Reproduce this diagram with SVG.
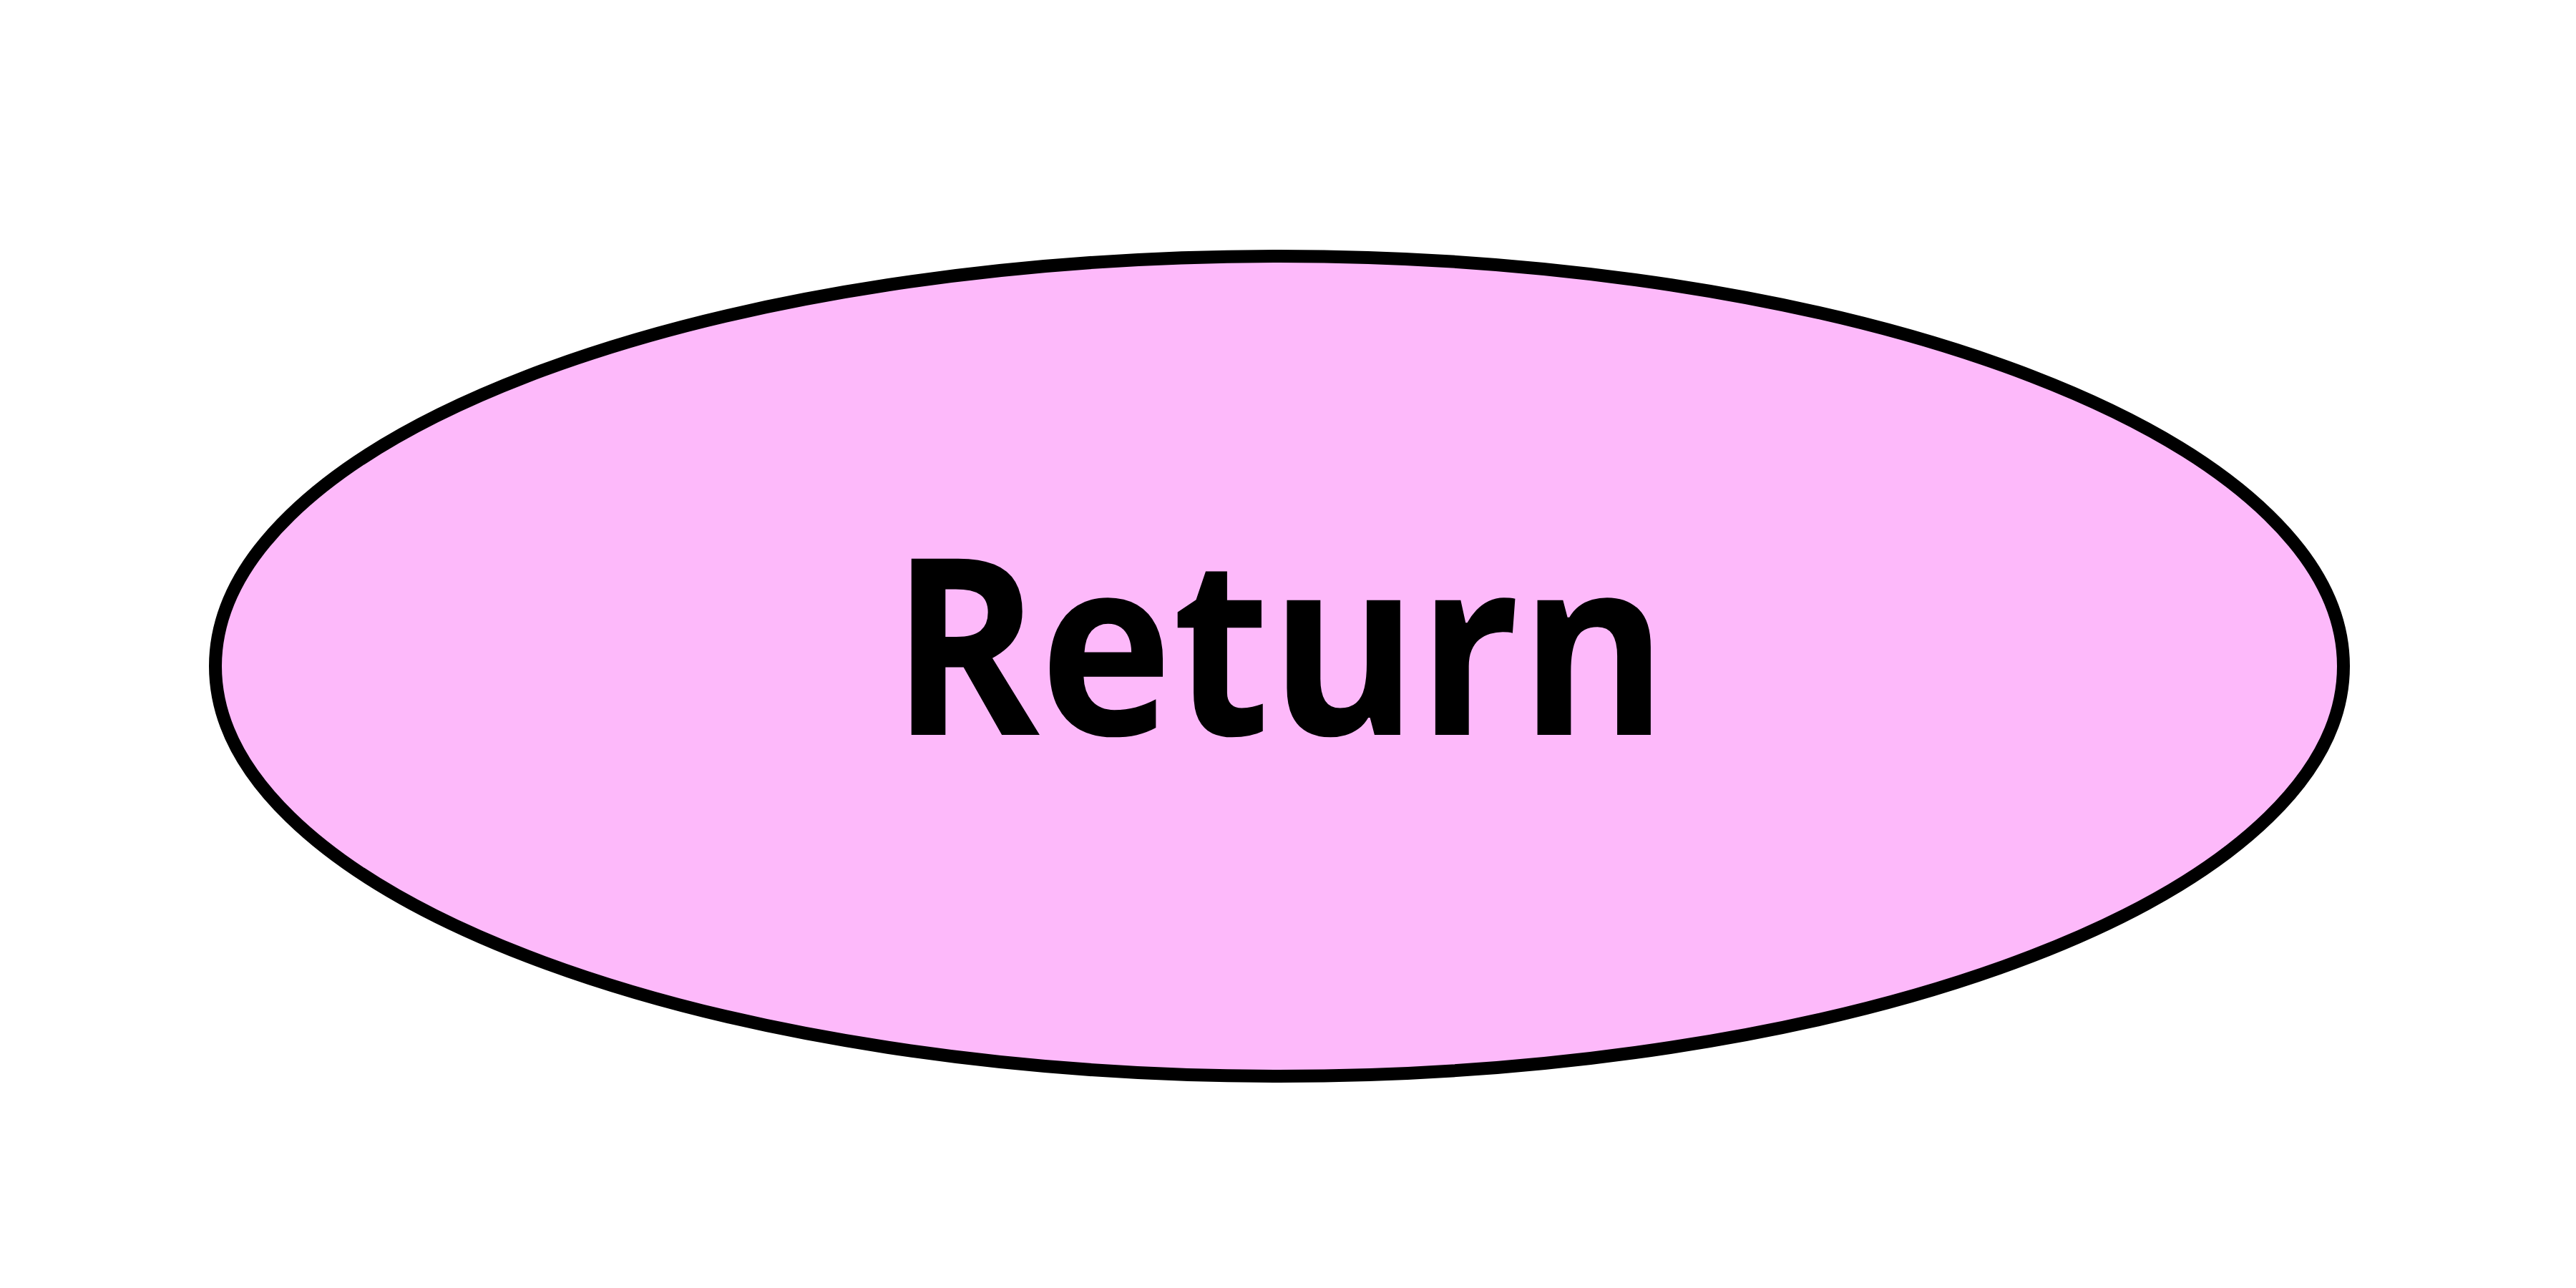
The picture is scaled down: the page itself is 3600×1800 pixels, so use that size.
<svg xmlns="http://www.w3.org/2000/svg" width="3600" height="1800" viewBox="0 0 3600 1800">
<style>
.node-shape{fill:#FDB9FA;stroke:#000;stroke-width:18}
.label{font-family:"Open Sans","Noto Sans",sans-serif;font-weight:bold;font-size:345px;fill:#000;text-anchor:middle}
</style>
<rect width="3600" height="1800" fill="#fff"/>
<g id="connectors"></g>
<g id="return">
<ellipse class="node-shape" cx="1788" cy="931" rx="1487" ry="573"/>
<text class="label" x="1788" y="1027" textLength="1085" lengthAdjust="spacingAndGlyphs">Return</text>
</g>
</svg>
